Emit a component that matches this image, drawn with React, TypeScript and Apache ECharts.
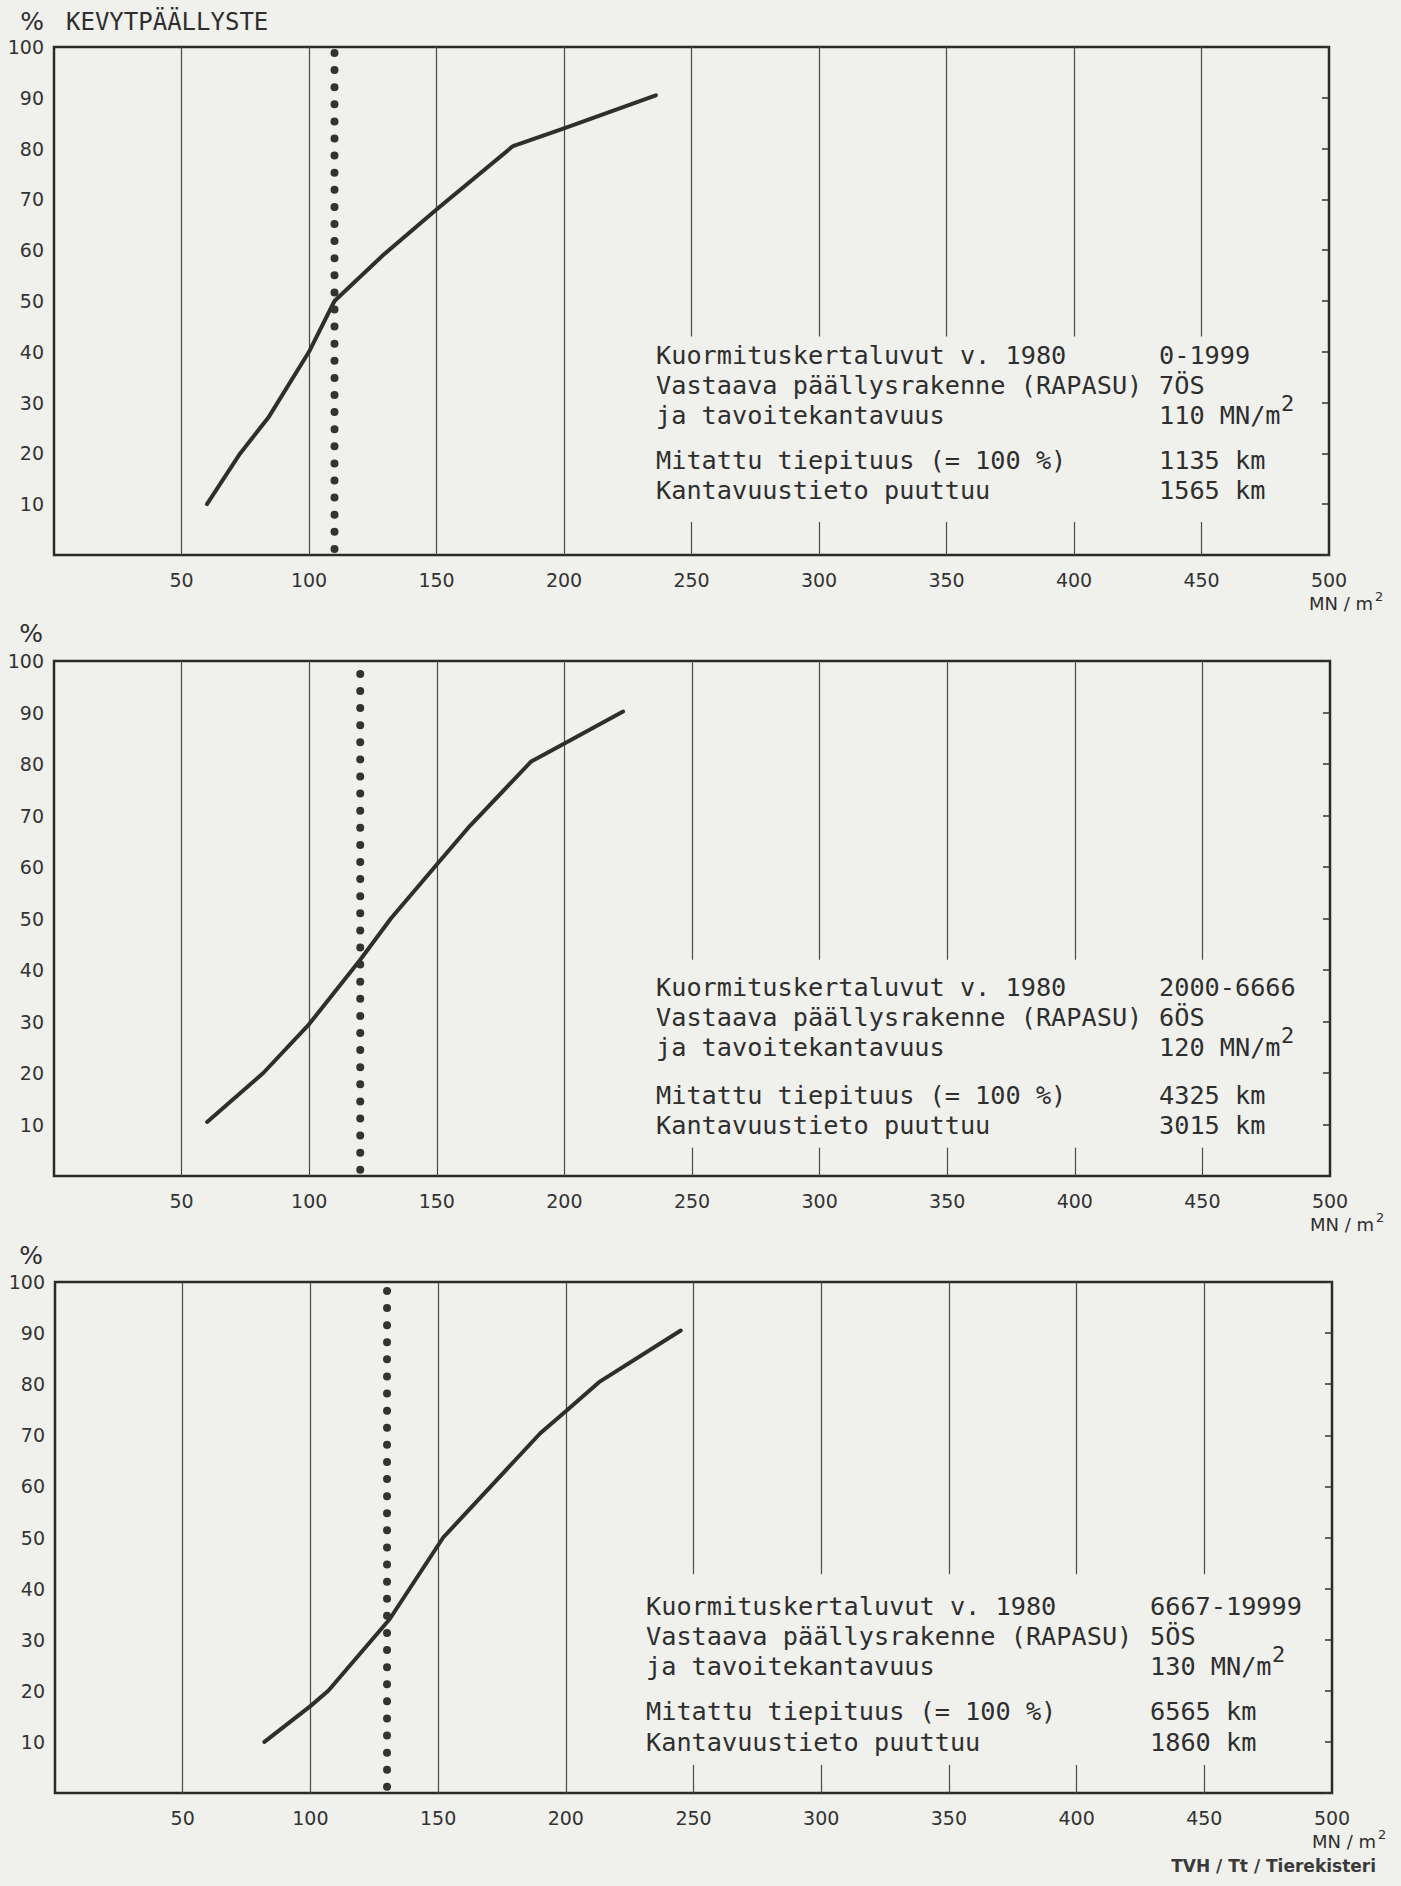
import React, { useEffect, useRef } from "react";
import * as echarts from "echarts";

// ---- Data ----
const panelTitle = "KEVYTPÄÄLLYSTE";

const curve1X = [60, 73, 84, 100, 110, 129, 150, 180, 200, 236];
const curve1Y = [10, 20, 27, 40, 50, 59, 68, 80.5, 84, 90.5];

const curve2X = [60, 82, 100, 120, 132, 150, 163, 187, 200, 223];
const curve2Y = [10.5, 20, 29.5, 42, 50, 60.5, 68, 80.5, 84, 90.2];

const curve3X = [82, 100, 107, 131, 152, 190, 200, 213, 245];
const curve3Y = [10, 17, 20, 34, 50, 70.4, 74.7, 80.4, 90.5];

const targetValues = [110, 120, 130]; // tavoitekantavuus MN/m2

// vertical grid lines: full ones, and ones interrupted behind the text block
const fullTicks = [50, 100, 150, 200];
const stubTicks = [250, 300, 350, 400, 450];

const leftLabels = [
  "Kuormituskertaluvut v. 1980",
  "Vastaava päällysrakenne (RAPASU)",
  "ja tavoitekantavuus",
  "Mitattu tiepituus (= 100 %)",
  "Kantavuustieto puuttuu",
];
const rightLabels1 = ["0-1999", "7ÖS", "110 MN/m", "1135 km", "1565 km"];
const rightLabels2 = ["2000-6666", "6ÖS", "120 MN/m", "4325 km", "3015 km"];
const rightLabels3 = ["6667-19999", "5ÖS", "130 MN/m", "6565 km", "1860 km"];

const xUnit = "MN / m";
const footer = "TVH / Tt / Tierekisteri";

// ---- Layout / style ----
const BG = "#f0f0ec";
const INK = "#2e2e2e";
const GRIDC = "#4a4a4a";
const MONO = "'DejaVu Sans Mono', monospace";
const SANS = "'DejaVu Sans', sans-serif";

const GRIDS = [
  { left: 54, top: 47, width: 1275, height: 508 },
  { left: 54, top: 661, width: 1276, height: 515 },
  { left: 55, top: 1282, width: 1277, height: 511 },
];
const GAPS = [
  [6.5, 43],
  [5.5, 42],
  [5.5, 42.8],
];
const BLOCKS = [
  { left: 656, right: 1159, rows: [356, 386, 416, 461, 491], pct: [32, 21] },
  { left: 656, right: 1159, rows: [988, 1018, 1048, 1096, 1126], pct: [31, 633] },
  { left: 646, right: 1150, rows: [1607, 1637, 1667, 1712, 1743], pct: [31, 1255] },
];

function text(x: number, y: number, t: string, o: any = {}) {
  return {
    type: "text",
    x,
    y,
    z: 50,
    scaleX: o.scaleX ?? 1,
    silent: true,
    style: {
      text: t,
      fill: o.fill ?? INK,
      fontSize: o.fontSize ?? 24,
      fontFamily: o.fontFamily ?? MONO,
      fontWeight: o.fontWeight ?? "normal",
      textAlign: o.align ?? "left",
      textVerticalAlign: "middle",
    },
  };
}

export default function App() {
  const ref = useRef<HTMLDivElement>(null);

  useEffect(() => {
    if (!ref.current) return;
    document.body.style.margin = "0";
    const chart = echarts.init(ref.current, undefined, { renderer: "svg" });

    const curves = [
      [curve1X, curve1Y],
      [curve2X, curve2Y],
      [curve3X, curve3Y],
    ];
    const rights = [rightLabels1, rightLabels2, rightLabels3];

    const grid = GRIDS.map((g) => ({
      ...g,
      show: true,
      borderColor: "#2a2a2a",
      borderWidth: 2.5,
      backgroundColor: "transparent",
      containLabel: false,
    }));

    const xAxis = GRIDS.map((_, i) => ({
      type: "value",
      gridIndex: i,
      min: 0,
      max: 500,
      interval: 50,
      axisLine: { show: false },
      axisTick: { show: false },
      splitLine: { show: false },
      axisLabel: {
        formatter: (v: number) => (v === 0 ? "" : String(v)),
        margin: 15,
        fontSize: 19,
        fontFamily: SANS,
        color: "#333",
      },
    }));

    const yAxis: any[] = [];
    GRIDS.forEach((_, i) => {
      yAxis.push({
        type: "value",
        gridIndex: i,
        position: "left",
        min: 0,
        max: 100,
        interval: 10,
        axisLine: { show: false },
        axisTick: { show: false },
        splitLine: { show: false },
        axisLabel: {
          formatter: (v: number) => (v === 0 ? "" : String(v)),
          margin: 10,
          fontSize: 19,
          fontFamily: SANS,
          color: "#333",
        },
      });
      yAxis.push({
        type: "value",
        gridIndex: i,
        position: "right",
        min: 0,
        max: 100,
        interval: 10,
        z: 5,
        axisLine: { show: false },
        axisTick: { show: true, inside: true, length: 7, lineStyle: { color: "#333", width: 1.5 } },
        splitLine: { show: false },
        axisLabel: { show: false },
      });
    });

    const series: any[] = [];
    curves.forEach(([xs, ys], i) => {
      const gridSegs: any[] = [];
      fullTicks.forEach((x) =>
        gridSegs.push([
          { xAxis: x, yAxis: 0 },
          { xAxis: x, yAxis: 100 },
        ])
      );
      stubTicks.forEach((x) => {
        gridSegs.push([
          { xAxis: x, yAxis: 0 },
          { xAxis: x, yAxis: GAPS[i][0] },
        ]);
        gridSegs.push([
          { xAxis: x, yAxis: GAPS[i][1] },
          { xAxis: x, yAxis: 100 },
        ]);
      });
      series.push({
        type: "line",
        xAxisIndex: i,
        yAxisIndex: i * 2,
        data: xs.map((x, k) => [x, ys[k]]),
        symbol: "none",
        lineStyle: { color: INK, width: 4, join: "round", cap: "round" },
        z: 3,
        markLine: {
          silent: true,
          z: 1,
          symbol: ["none", "none"],
          label: { show: false },
          lineStyle: { color: GRIDC, width: 1.2, type: "solid" },
          emphasis: { disabled: true },
          data: gridSegs,
        },
      });
      series.push({
        type: "line",
        xAxisIndex: i,
        yAxisIndex: i * 2,
        data: [
          [targetValues[i], 1.2],
          [targetValues[i], 99.2],
        ],
        symbol: "none",
        z: 4,
        lineStyle: { color: "#333", width: 8, type: [0, 17.1], cap: "round" },
      });
    });

    const graphic: any[] = [];
    graphic.push(text(66, 22, panelTitle, { fontSize: 24 }));
    BLOCKS.forEach((b, i) => {
      graphic.push(text(b.pct[0], b.pct[1], "%", { fontFamily: SANS, fontSize: 25, align: "center" }));
      leftLabels.forEach((t, j) => graphic.push(text(b.left, b.rows[j], t, { scaleX: 1.052 })));
      rights[i].forEach((t, j) => graphic.push(text(b.right, b.rows[j], t, { scaleX: 1.052 })));
      graphic.push(text(b.right + 122, b.rows[2] - 13, "2", { fontSize: 22 }));
      const g = GRIDS[i];
      const ux = g.left + g.width + 12;
      const uy = g.top + g.height + 48;
      graphic.push(text(ux, uy, xUnit, { fontFamily: SANS, fontSize: 18, align: "center" }));
      graphic.push(text(ux + 34, uy - 7, "2", { fontFamily: SANS, fontSize: 13, align: "left" }));
    });
    graphic.push(
      text(1376, 1866, footer, { fontFamily: SANS, fontSize: 17, fontWeight: "bold", align: "right", fill: "#3a3a3a" })
    );

    chart.setOption({
      animation: false,
      backgroundColor: BG,
      grid,
      xAxis,
      yAxis,
      series,
      graphic,
    });

    return () => chart.dispose();
  }, []);

  return (
    <div
      ref={ref}
      style={{ position: "absolute", left: 0, top: 0, width: 1401, height: 1886 }}
    />
  );
}
